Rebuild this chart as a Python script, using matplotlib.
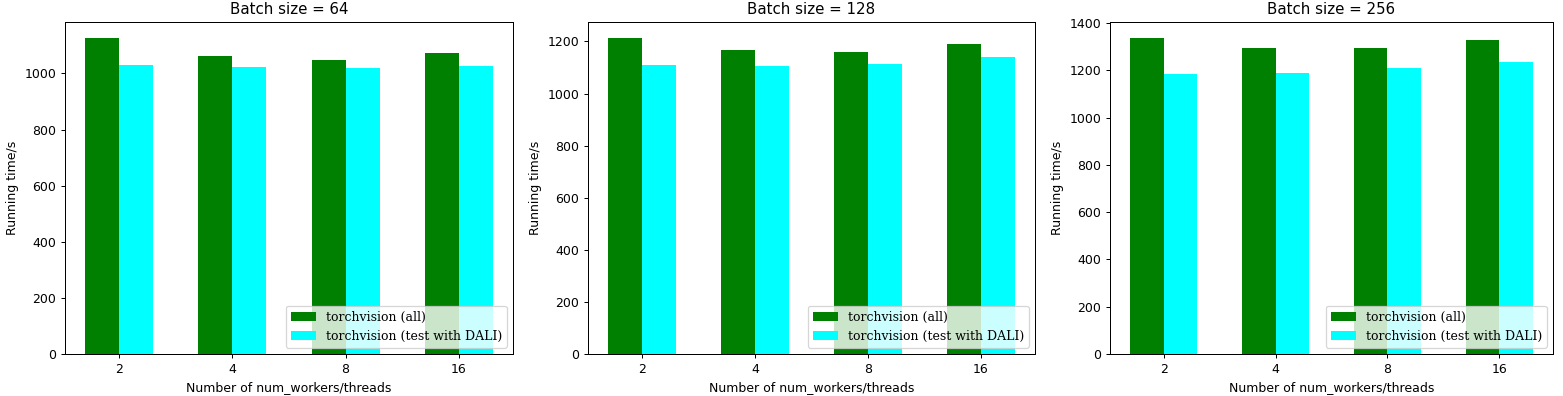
import numpy as np
import matplotlib
matplotlib.use('Agg')
import matplotlib.pyplot as plt

workers = ['2', '4', '8', '16']
batch_sizes = [64, 128, 256]

# running time in seconds, one list per batch size
tv_all = [
    [1127, 1061, 1047, 1072],
    [1214, 1166, 1158, 1190],
    [1337, 1292, 1292, 1326],
]
tv_dali = [
    [1030, 1022, 1021, 1026],
    [1109, 1105, 1114, 1140],
    [1185, 1187, 1209, 1233],
]

dpi = 90
W, H = 1563, 396
fig, axes = plt.subplots(1, 3, figsize=(W / dpi, H / dpi), dpi=dpi)

# axes edges in pixels (left, right)
edges = [(65, 513), (588, 1035), (1110, 1553)]
top, bottom = 22, 354

x = np.arange(len(workers))
w = 0.3
for i, ax in enumerate(axes):
    l, r = edges[i]
    ax.set_position([l / W, 1 - bottom / H, (r - l) / W, (bottom - top) / H])
    ax.bar(x - w / 2, tv_all[i], w, color='green', label='torchvision (all)')
    ax.bar(x + w / 2, tv_dali[i], w, color='cyan', label='torchvision (test with DALI)')
    ax.set_xticks(x)
    ax.set_xticklabels(workers)
    ax.set_title('Batch size = %d' % batch_sizes[i])
    ax.set_xlabel('Number of num_workers/threads')
    ax.set_ylabel('Running time/s')
    ax.legend(loc='lower right', prop={'family': 'DejaVu Serif'})

plt.savefig('out.png', dpi=dpi)
